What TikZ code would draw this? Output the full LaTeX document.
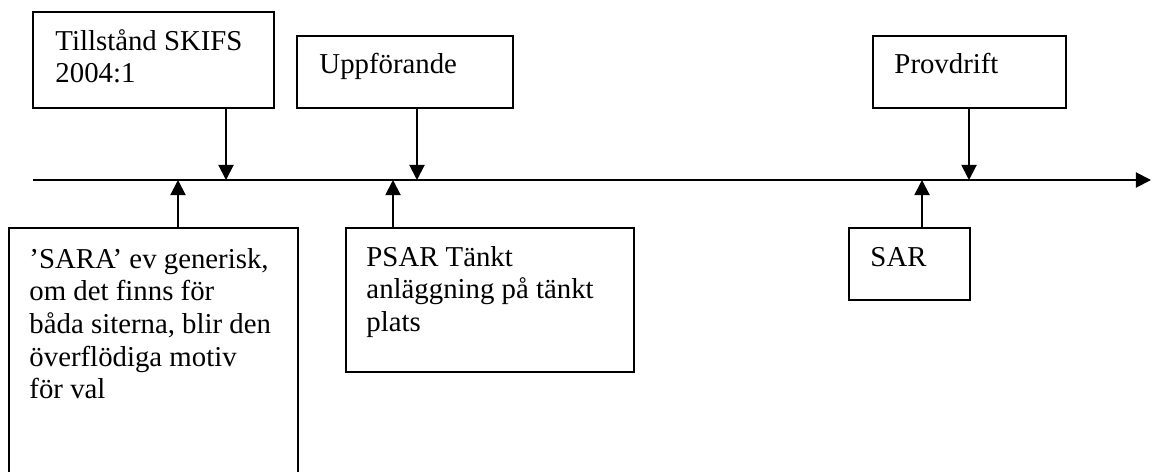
\documentclass[tikz,border=0pt]{standalone}
\usepackage{fontspec}
\setmainfont{Liberation Serif}
\usepackage{tikz}
\usetikzlibrary{arrows.meta,calc}

\newcommand{\pxl}{0.41667pt}

\begin{document}
\begin{tikzpicture}[x=0.41667pt,y=-0.41667pt,
  box/.style={draw, line width=0.8pt, inner sep=0pt, outer sep=0pt},
  txt/.style={align=left, inner sep=0pt, anchor=north west, font=\fontsize{12pt}{13.6pt}\selectfont},
  tip/.style={-{Triangle[length=6.3pt,width=6.3pt]}, line width=0.8pt}]

 \useasboundingbox (0,0) rectangle (1152,471);
 \clip (0,0) rectangle (1152,471);

% Timeline
 \coordinate (start) at (33,180);
 \coordinate (end) at (1151,180);
 \draw [tip] (start) -- (end);
 \coordinate (t1) at (226,180);
 \coordinate (t2) at (178,180);
 \coordinate (t3) at (417,180);
 \coordinate (t4) at (393,180);
 \coordinate (t5) at (969,180);
 \coordinate (t6) at (922,180);

% Boxes above
 \node[box, minimum width=241*\pxl, minimum height=96*\pxl] (tillst) at (153.5,60) {};
 \node[txt] (tillsttxt) at ($(tillst.north west)+(22,15)$) {\strut Tillstånd SKIFS\\2004:1};

 \node[box, minimum width=216*\pxl, minimum height=72*\pxl] (uppf) at (405,72) {};
 \node[txt] (uppftxt) at ($(uppf.north west)+(22,14)$) {\strut Uppförande};

 \node[box, minimum width=193*\pxl, minimum height=72*\pxl] (provd) at (969.5,72) {};
 \node[txt] (provdtxt) at ($(provd.north west)+(21,14)$) {\strut Provdrift};

% Boxes below
 \node[box, minimum width=289*\pxl, minimum height=262*\pxl] (sara) at (153.5,359) {};
 \node[txt] (saratxt) at ($(sara.north west)+(20,17)$) {\strut ’SARA’ ev generisk,\\om det finns för\\båda siterna, blir den\\överflödiga motiv\\för val};

 \node[box, minimum width=288*\pxl, minimum height=144*\pxl] (psar) at (490,300) {};
 \node[txt] (psartxt) at ($(psar.north west)+(20,15)$) {\strut PSAR Tänkt\\anläggning på tänkt\\plats};

 \node[box, minimum width=121*\pxl, minimum height=72*\pxl] (sar) at (909.5,264) {};
 \node[txt] (sartxt) at ($(sar.north west)+(21,15)$) {\strut SAR};

% Arrows
 \draw [tip] (tillst.south -| t1) -- (t1);
 \draw [tip] (uppf.south -| t3) -- (t3);
 \draw [tip] (provd.south -| t5) -- (t5);
 \draw [tip] (sara.north -| t2) -- (t2);
 \draw [tip] (psar.north -| t4) -- (t4);
 \draw [tip] (sar.north -| t6) -- (t6);

\end{tikzpicture}
\end{document}
